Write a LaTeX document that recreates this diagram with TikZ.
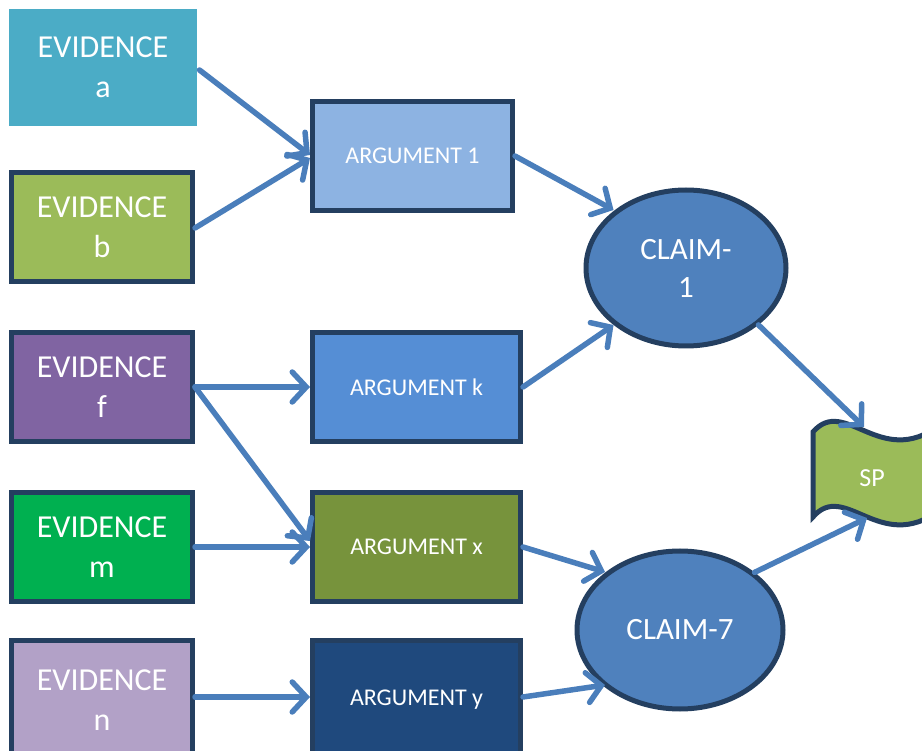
\documentclass[tikz,border=0pt]{standalone}
\usepackage{fontspec}
\setmainfont{Carlito}
\usetikzlibrary{arrows.meta,shapes.geometric}
\definecolor{evA}{HTML}{4BACC6}
\definecolor{evB}{HTML}{9BBB59}
\definecolor{evF}{HTML}{8064A2}
\definecolor{evM}{HTML}{00B050}
\definecolor{evN}{HTML}{B2A1C7}
\definecolor{arO}{HTML}{8DB3E2}
\definecolor{arK}{HTML}{558ED5}
\definecolor{arX}{HTML}{77933C}
\definecolor{arY}{HTML}{1F497D}
\definecolor{clm}{HTML}{4F81BD}
\definecolor{edge}{HTML}{243F60}
\definecolor{conn}{HTML}{4A7EBB}
\tikzset{
  evbox/.style={draw=edge, line width=5pt, minimum width=181pt, minimum height=109pt,
    text=white, font=\fontsize{32}{40}\selectfont, align=center, inner sep=0pt},
  argbox/.style={draw=edge, line width=5pt, minimum height=109pt,
    text=white, font=\fontsize{24}{28}\selectfont, align=center, inner sep=0pt},
  claimnode/.style={ellipse, draw=edge, line width=5pt, fill=clm, inner sep=0pt,
    text=white, font=\fontsize{31}{38}\selectfont, align=center},
  conarrow/.style={draw=conn, line width=5.5pt, line cap=round,
    -{Straight Barb[length=14pt,width=30pt,line cap=round]}}
}
\begin{document}
\begin{tikzpicture}[x=1pt,y=-1pt]
\useasboundingbox (0,0) rectangle (922,751);
% evidence
\node[evbox, draw=none, fill=evA, minimum width=188pt, minimum height=117pt] (ea) at (103,67.5) {EVIDENCE\\a};
\node[evbox, fill=evB] (eb) at (102,227.5) {EVIDENCE\\b};
\node[evbox, fill=evF] (ef) at (102,387) {EVIDENCE\\f};
\node[evbox, fill=evM] (em) at (102,547) {EVIDENCE\\m};
\node[evbox, fill=evN, minimum height=120pt] (en) at (102,700) {EVIDENCE\\n};
% arguments
\node[argbox, fill=arO, minimum width=200pt] (a1) at (412.5,156) {ARGUMENT 1};
\node[argbox, fill=arK, minimum width=208pt] (ak) at (416.5,387) {ARGUMENT k};
\node[argbox, fill=arX, minimum width=208pt] (ax) at (416.5,547) {ARGUMENT x};
\node[argbox, fill=arY, minimum width=208pt, minimum height=120pt] (ay) at (416.5,700) {ARGUMENT y};
% claims
\node[claimnode, minimum width=200pt, minimum height=156pt] (c1) at (686,268) {CLAIM-\\1};
\node[claimnode, minimum width=206pt, minimum height=158pt] (c7) at (680,630) {CLAIM-7};
% SP wave shape
\draw[edge, line width=5pt, fill=evB]
  (813,432) .. controls (845,395) and (880,470) .. (940,425)
  -- (940,510) .. controls (880,555) and (845,480) .. (813,517) -- cycle;
\node[text=white, font=\fontsize{26}{30}\selectfont] (sp) at (872,478) {SP};
\coordinate (spt) at (864,427);
\coordinate (spb) at (867,518);
% connectors
\draw[conarrow] (ea.east |- 0,70) -- (a1.west |- 0,155);
\draw[conarrow] (eb.east |- 0,228) -- (a1.west |- 0,158);
\draw[conarrow] (a1.east) -- (c1.north west |- 0,210);
\draw[conarrow] (ak.east) -- (c1.south west |- 0,325);
\draw[conarrow] (ef.east) -- (ak.west);
\draw[conarrow] (ef.east) -- (ax.west |- 0,541);
\draw[conarrow] (em.east) -- (ax.west);
\draw[conarrow] (ax.east) -- (605,572);
\draw[conarrow] (en.east |- 0,697) -- (ay.west |- 0,697);
\draw[conarrow] (ay.east |- 0,697) -- (605,685);
\draw[conarrow] (c1.south east) -- (spt);
\draw[conarrow] (c7.north east) -- (spb);
\end{tikzpicture}
\end{document}
